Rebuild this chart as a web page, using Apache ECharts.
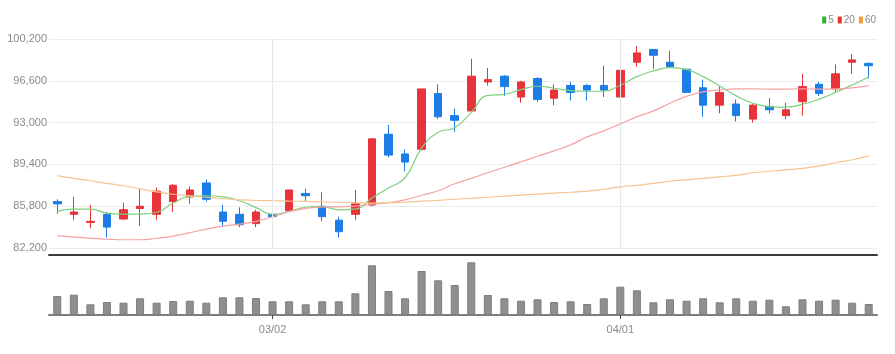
<!DOCTYPE html>
<html>
<head>
    <meta charset="UTF-8">
    <script src="https://cdn.jsdelivr.net/npm/echarts@6/dist/echarts.min.js"></script>
    <style>
        html, body { margin: 0; padding: 0; background: #fff; }
        #main { width: 895px; height: 354px; }
    </style>
</head>
<body>
<div id="main"></div>
<script type="text/javascript">
    var dates = ['02/10', '02/11', '02/14', '02/15', '02/16', '02/17', '02/18', '02/21', '02/22', '02/23',
        '02/24', '02/25', '02/28', '03/02', '03/03', '03/04', '03/07', '03/08', '03/10', '03/11',
        '03/14', '03/15', '03/16', '03/17', '03/18', '03/21', '03/22', '03/23', '03/24', '03/25',
        '03/28', '03/29', '03/30', '03/31', '04/01', '04/04', '04/05', '04/06', '04/07', '04/08',
        '04/11', '04/12', '04/13', '04/14', '04/15', '04/18', '04/19', '04/20', '04/21', '04/22'];
    var monthStarts = ['03/02', '04/01'];

    // [open, close, low, high]
    var kData = [
        [86200, 86000, 85150, 86400], [85100, 85300, 84600, 86600], [84400, 84500, 83900, 85900],
        [85100, 84000, 83100, 85300], [84700, 85500, 84600, 86100], [85600, 85800, 84100, 87300],
        [85100, 87100, 84600, 87400], [86200, 87600, 85300, 87700], [86600, 87200, 86000, 87500],
        [87800, 86400, 86200, 88100], [85300, 84500, 84000, 85900], [85100, 84200, 84000, 85700],
        [84300, 85300, 84000, 85500], [85100, 84900, 84500, 86000], [85400, 87200, 85300, 87200],
        [86900, 86700, 86200, 87300], [85800, 84900, 84500, 87000], [84600, 83600, 83100, 84900],
        [85100, 86000, 84600, 87200], [85900, 91600, 85800, 91600], [92000, 90200, 90000, 92800],
        [90300, 89600, 88800, 90700], [90700, 95900, 90600, 95900], [95500, 93500, 93300, 96300],
        [93600, 93200, 92200, 94200], [94000, 97000, 94000, 98500], [96500, 96700, 96200, 97700],
        [97000, 96100, 95300, 97100], [95200, 96500, 94700, 96600], [96800, 95000, 94800, 96900],
        [95100, 95800, 94500, 96300], [96200, 95600, 94900, 96500], [96200, 95800, 94900, 96300],
        [96200, 95800, 95200, 97900], [95200, 97500, 94900, 97900], [98200, 99000, 97800, 99600],
        [99300, 98800, 97600, 99300], [98200, 97800, 97700, 99200], [97600, 95600, 95600, 97600],
        [96000, 94500, 93500, 96700], [94500, 95600, 93800, 96100], [94600, 93600, 93100, 95000],
        [93300, 94500, 93000, 94600], [94400, 94100, 93800, 95100], [93600, 94100, 93300, 94700],
        [94800, 96100, 93600, 97200], [96300, 95500, 95300, 96500], [95900, 97200, 95600, 98000],
        [98200, 98400, 97200, 98900], [98100, 97900, 96800, 98200]
    ];

    var ma5 = [85370, 85540, 85550, 85210, 85120, 85120, 85280, 86070, 86640, 86700,
        86610, 86270, 85680, 85090, 85350, 85710, 85780, 85490, 85550, 86500,
        87360, 88250, 90800, 92160, 92560, 93880, 95340, 95430, 95840, 96130,
        95960, 95750, 95700, 95700, 96220, 96960, 97450, 97730, 97560, 96960,
        96160, 95300, 94670, 94380, 94330, 94590, 95020, 95600, 96240, 96930];

    var ma20 = [83260, 83130, 83030, 82960, 82910, 82910, 83040, 83220, 83520, 83820,
        84080, 84250, 84500, 84890, 85320, 85620, 85730, 85750, 85800, 85970,
        86100, 86350, 86740, 87130, 87730, 88200, 88680, 89150, 89620, 90100,
        90570, 91080, 91770, 92290, 92890, 93490, 94010, 94670, 95260, 95640,
        95810, 95900, 95900, 95890, 95890, 95900, 95880, 95910, 95990, 96180];

    var ma60 = [88440, 88200, 87990, 87770, 87560, 87300, 87040, 86830, 86700, 86570,
        86440, 86350, 86290, 86270, 86240, 86210, 86180, 86140, 86100, 86070,
        86100, 86140, 86230, 86310, 86400, 86480, 86570, 86660, 86760, 86840,
        86930, 87000, 87090, 87260, 87470, 87600, 87770, 87950, 88070, 88200,
        88330, 88460, 88680, 88810, 88930, 89060, 89280, 89540, 89800, 90140];

    var volumes = [190000, 203000, 107000, 130000, 123000, 167000, 123000, 140000, 143000, 123000,
        177000, 177000, 170000, 137000, 137000, 107000, 137000, 137000, 217000, 497000,
        240000, 167000, 440000, 347000, 300000, 527000, 200000, 167000, 143000, 157000,
        130000, 137000, 110000, 167000, 283000, 247000, 127000, 157000, 143000, 167000,
        127000, 167000, 143000, 153000, 87000, 157000, 143000, 153000, 123000, 110000];

    var priceMin = 82200, priceMax = 100200, priceStep = 3600;

    var upColor = '#e8333a';
    var downColor = '#1c7de6';
    var textFont = '"Liberation Sans Narrow", "Liberation Sans", sans-serif';

    function isMonthStart(index, value) {
        return monthStarts.indexOf(value) !== -1;
    }

    var myChart = echarts.init(document.getElementById('main'));
    var option = {
        animation: false,
        legend: {
            data: ['5', '20', '60'],
            right: 19,
            top: 15,
            padding: 0,
            icon: 'rect',
            itemWidth: 4,
            itemHeight: 7,
            itemGap: 4,
            textStyle: {color: '#8a8a8a', fontSize: 10, fontFamily: textFont, padding: [0, 0, 0, -3]}
        },
        grid: [
            {left: 49, right: 18, top: 39, height: 209},
            {left: 49, right: 18, top: 262, height: 53}
        ],
        xAxis: [
            {
                type: 'category',
                gridIndex: 0,
                data: dates,
                offset: 7,
                axisLine: {show: true, onZero: false, lineStyle: {color: '#3a3a3a', width: 2}},
                axisTick: {show: false},
                axisLabel: {show: false},
                splitLine: {show: false}
            },
            {
                type: 'category',
                gridIndex: 1,
                data: dates,
                axisLine: {show: true, onZero: false, lineStyle: {color: '#7d7d7d', width: 2}},
                axisTick: {show: true, alignWithLabel: true, interval: isMonthStart, length: 4,
                    lineStyle: {color: '#444'}},
                axisLabel: {interval: isMonthStart, color: '#8a8a8a', fontSize: 11, margin: 9,
                    fontFamily: textFont},
                splitLine: {show: false}
            }
        ],
        yAxis: [
            {
                type: 'value',
                gridIndex: 0,
                min: priceMin,
                max: priceMax,
                interval: priceStep,
                axisLine: {show: false},
                axisTick: {show: false},
                axisLabel: {
                    color: '#8a8a8a', fontSize: 11, margin: 2, fontFamily: textFont,
                    formatter: function (v) { return v.toLocaleString('en-US'); }
                },
                splitLine: {lineStyle: {color: '#ececec'}}
            },
            {
                type: 'value',
                gridIndex: 1,
                min: 0,
                max: 530000,
                show: false,
                splitLine: {show: false}
            }
        ],
        series: [
            {
                name: 'price',
                type: 'candlestick',
                xAxisIndex: 0,
                yAxisIndex: 0,
                data: kData,
                barWidth: 8,
                itemStyle: {
                    color: upColor,
                    color0: downColor,
                    borderColor: upColor,
                    borderColor0: downColor,
                    borderWidth: 1
                },
                markLine: {
                    silent: true,
                    symbol: 'none',
                    label: {show: false},
                    lineStyle: {color: '#e6e6e6', type: 'solid', width: 1},
                    data: monthStarts.map(function (d) { return {xAxis: d}; })
                },
                z: 3
            },
            {
                name: '5',
                type: 'line',
                data: ma5,
                smooth: true,
                showSymbol: false,
                itemStyle: {color: '#2bb52b'},
                lineStyle: {color: '#7fd07f', width: 1.2},
                z: 4
            },
            {
                name: '20',
                type: 'line',
                data: ma20,
                smooth: true,
                showSymbol: false,
                itemStyle: {color: '#e8302f'},
                lineStyle: {color: '#f4a2a2', width: 1.2},
                z: 4
            },
            {
                name: '60',
                type: 'line',
                data: ma60,
                smooth: true,
                showSymbol: false,
                itemStyle: {color: '#f29a2e'},
                lineStyle: {color: '#f7c38f', width: 1.2},
                z: 4
            },
            {
                name: 'volume',
                type: 'bar',
                xAxisIndex: 1,
                yAxisIndex: 1,
                data: volumes,
                barWidth: 8,
                itemStyle: {color: '#8f8f8f', borderColor: '#7e7e7e', borderWidth: 1}
            }
        ]
    };
    myChart.setOption(option);
</script>
</body>
</html>
